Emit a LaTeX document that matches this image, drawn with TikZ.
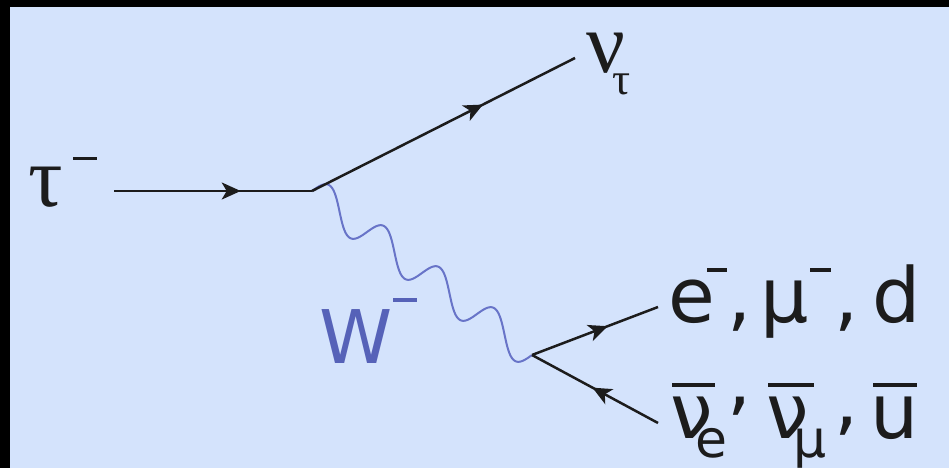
\documentclass[tikz,border=0pt]{standalone}
\usepackage{fontspec}
\setmainfont{DejaVu Sans}
\newfontfamily\grkfont{Liberation Serif}
\usetikzlibrary{arrows.meta,decorations.markings,calc}
\definecolor{bgblue}{RGB}{212,227,252}
\definecolor{wcol}{RGB}{86,98,184}
\definecolor{wavecol}{RGB}{104,116,200}
\definecolor{lcol}{RGB}{28,28,28}
\newcommand\putat[2]{\rlap{\hspace*{#1}#2}}
\tikzset{
  fermion/.style={draw=lcol, line width=2.5pt, postaction={decorate},
    decoration={markings, mark=at position #1 with {\arrow[lcol]{Stealth[length=19pt,width=17pt,inset=5pt]}}}},
  lab/.style={inner sep=0pt, outer sep=0pt, anchor=base west, text=lcol},
  wave/.style={draw=wavecol, line width=2pt},
}
\begin{document}
\begin{tikzpicture}[x=1pt,y=-1pt]
\useasboundingbox (0,0) rectangle (949,468);
\fill[black] (0,0) rectangle (949,468);
\fill[bgblue] (10,7) rectangle (949,468);

\coordinate (tauin) at (114,191);
\coordinate (v1) at (312,191);
\coordinate (nuend) at (575,58);
\coordinate (v2) at (532,355);
\coordinate (eend) at (658,307);
\coordinate (nubarend) at (658,423);

% W propagator from (v1) to (v2)
\begin{scope}[shift={(v1)}]
\draw[wave] plot[domain=0:1,samples=240,variable=\t]
  ({220*\t+4.03*sin(1440*\t)},{164*\t-15.7*sin(1440*\t)});
\end{scope}

% fermion lines
\draw[fermion=0.64] (tauin) -- (v1);
\draw[fermion=0.65] (v1) -- (nuend);
\draw[fermion=0.6] (v2) -- (eend);
\draw[fermion=0.52] (nubarend) -- (v2);

% labels
\node[lab] (taulab) at (28,206) {\grkfont\fontsize{86pt}{90pt}\selectfont
  \putat{45pt}{\rule[46pt]{24pt}{3pt}}τ};
\node[lab] (nutaulab) at (586,73) {\grkfont\fontsize{86pt}{90pt}\selectfont
  \putat{26pt}{\raisebox{-22pt}{\fontsize{45pt}{48pt}\selectfont τ}}ν};
\node[lab, text=wcol] (wlab) at (319,363) {\fontsize{74pt}{78pt}\selectfont
  \putat{74pt}{\rule[61pt]{24pt}{4pt}}W};
\node[lab] (elab) at (668,322) {\fontsize{76pt}{80pt}\selectfont
  \putat{0pt}{e}\putat{39pt}{\rule[50pt]{20pt}{4pt}}\putat{59pt}{,}%
  \putat{93pt}{μ}\putat{142pt}{\rule[50pt]{21pt}{4pt}}\putat{166pt}{,}%
  \putat{204pt}{d}\hspace*{250pt}};
\node[lab] (nubarlab) at (668,438) {\fontsize{76pt}{80pt}\selectfont
  \putat{2pt}{ν}\putat{4pt}{\rule[51pt]{43pt}{4pt}}%
  \putat{27pt}{\raisebox{-19pt}{\fontsize{52pt}{54pt}\selectfont e}}%
  \putat{59pt}{\raisebox{32pt}{,}}%
  \putat{98pt}{ν}\putat{100pt}{\rule[51pt]{46pt}{4pt}}%
  \putat{125pt}{\raisebox{-19pt}{\fontsize{52pt}{54pt}\selectfont μ}}%
  \putat{166pt}{\raisebox{12pt}{,}}%
  \putat{202pt}{u}\putat{205pt}{\rule[51pt]{44pt}{4pt}}\hspace*{250pt}};
\end{tikzpicture}
\end{document}
